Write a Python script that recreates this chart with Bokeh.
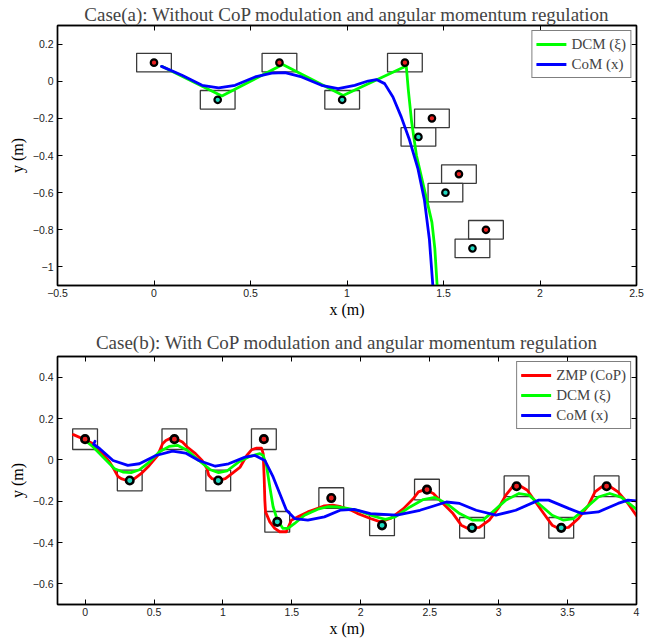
from bokeh.plotting import figure
from bokeh.layouts import column
from bokeh.models import FixedTicker, LinearAxis, CustomJSTickFormatter, Range1d
from bokeh.embed import file_html
from bokeh.resources import INLINE

# ---------------- Case (a) data ----------------
a_step_red_x = [0.0, 0.65, 1.30, 1.44, 1.58, 1.72]
a_step_red_y = [0.10, 0.10, 0.10, -0.20, -0.50, -0.80]
a_step_cyan_x = [0.33, 0.975, 1.37, 1.51, 1.65]
a_step_cyan_y = [-0.10, -0.10, -0.30, -0.60, -0.90]

a_dcm_x = [0.04, 0.352, 0.667, 0.98, 1.307, 1.318, 1.335, 1.36, 1.40, 1.44, 1.455, 1.467]
a_dcm_y = [0.08, -0.079, 0.09, -0.077, 0.082, -0.05, -0.22, -0.40, -0.58, -0.76, -0.90, -1.10]

a_com_x = [0.039, 0.145, 0.249, 0.335, 0.42, 0.524, 0.61, 0.679, 0.765, 0.868, 0.954,
           1.04, 1.109, 1.152, 1.195, 1.238, 1.281, 1.324, 1.367, 1.401, 1.427, 1.445]
a_com_y = [0.080, 0.032, -0.022, -0.036, -0.022, 0.023, 0.044, 0.046, 0.023, -0.022, -0.040,
           -0.022, 0.001, 0.009, -0.013, -0.085, -0.192, -0.317, -0.469, -0.639, -0.853, -1.104]

a_xticks = [-0.5, 0, 0.5, 1, 1.5, 2, 2.5]
a_yticks = [-1, -0.8, -0.6, -0.4, -0.2, 0, 0.2]

# ---------------- Case (b) data ----------------
b_step_red_x = [0.0, 0.648, 1.297, 1.786, 2.48, 3.13, 3.783]
b_step_red_y = [0.10, 0.10, 0.10, -0.185, -0.144, -0.128, -0.128]
b_step_cyan_x = [0.324, 0.966, 1.394, 2.154, 2.807, 3.454]
b_step_cyan_y = [-0.10, -0.10, -0.30, -0.317, -0.329, -0.329]

b_zmp_x = [-0.085, 0.0, 0.059, 0.118, 0.179, 0.214, 0.238, 0.262, 0.298, 0.358, 0.406, 0.466,
           0.526, 0.562, 0.586, 0.622, 0.658, 0.706, 0.741, 0.801, 0.849, 0.885, 0.897, 0.921,
           0.969, 1.017, 1.065, 1.125, 1.173, 1.209, 1.245, 1.28, 1.292, 1.299, 1.304, 1.309,
           1.34, 1.376, 1.412, 1.46, 1.496, 1.544, 1.616, 1.688, 1.736, 1.795, 1.855, 1.927,
           1.975, 2.07, 2.142, 2.214, 2.31, 2.382, 2.418, 2.466, 2.526, 2.597, 2.669, 2.729,
           2.777, 2.86, 2.932, 3.004, 3.052, 3.1, 3.148, 3.208, 3.268, 3.327, 3.388, 3.436,
           3.507, 3.579, 3.651, 3.699, 3.747, 3.794, 3.866, 3.938, 4.0]
b_zmp_y = [0.122, 0.097, 0.078, 0.037, -0.011, -0.051, -0.08, -0.091, -0.099, -0.091, -0.067, -0.027,
           0.021, 0.078, 0.094, 0.105, 0.102, 0.086, 0.062, 0.03, -0.003, -0.043, -0.075, -0.091,
           -0.099, -0.091, -0.067, -0.035, 0.021, 0.049, 0.057, 0.057, 0.03, -0.083, -0.195, -0.252,
           -0.3, -0.332, -0.348, -0.348, -0.292, -0.276, -0.252, -0.235, -0.223, -0.219, -0.227, -0.243,
           -0.259, -0.284, -0.3, -0.284, -0.236, -0.187, -0.155, -0.144, -0.163, -0.211, -0.26, -0.316,
           -0.332, -0.327, -0.292, -0.228, -0.171, -0.131, -0.123, -0.147, -0.204, -0.26, -0.316, -0.332,
           -0.327, -0.284, -0.22, -0.155, -0.131, -0.123, -0.155, -0.211, -0.27]

b_dcm_x = [0.0, 0.059, 0.13, 0.214, 0.274, 0.334, 0.394, 0.466, 0.538, 0.61, 0.67, 0.741, 0.825,
           0.909, 0.969, 1.029, 1.113, 1.197, 1.268, 1.292, 1.316, 1.34, 1.364, 1.395, 1.436, 1.472,
           1.52, 1.592, 1.688, 1.76, 1.831, 1.903, 1.975, 2.094, 2.178, 2.25, 2.357, 2.453, 2.537,
           2.621, 2.717, 2.813, 2.885, 2.957, 3.052, 3.148, 3.22, 3.304, 3.388, 3.471, 3.543, 3.627,
           3.723, 3.806, 3.891, 4.0]
b_dcm_y = [0.095, 0.062, 0.013, -0.043, -0.059, -0.062, -0.048, -0.011, 0.038, 0.065, 0.07, 0.046, -0.003,
           -0.048, -0.062, -0.054, -0.011, 0.017, 0.03, 0.021, -0.027, -0.131, -0.227, -0.292, -0.332, -0.332,
           -0.308, -0.268, -0.239, -0.227, -0.228, -0.235, -0.244, -0.273, -0.288, -0.276, -0.228, -0.192, -0.182,
           -0.211, -0.26, -0.292, -0.292, -0.252, -0.195, -0.163, -0.171, -0.22, -0.268, -0.292, -0.284, -0.236,
           -0.18, -0.163, -0.182, -0.24]

b_com_x = [0.072, 0.062, 0.09, 0.107, 0.203, 0.31, 0.394, 0.514, 0.634, 0.729, 0.825, 0.945, 1.041,
           1.161, 1.233, 1.304, 1.364, 1.412, 1.46, 1.52, 1.616, 1.736, 1.855, 1.951, 2.07, 2.262,
           2.429, 2.621, 2.717, 2.837, 2.98, 3.124, 3.291, 3.363, 3.507, 3.603, 3.723, 3.866, 3.938, 4.0]
b_com_y = [0.09, 0.075, 0.062, 0.054, -0.003, -0.027, -0.019, 0.021, 0.042, 0.033, -0.003, -0.031, -0.019,
           0.013, 0.021, -0.003, -0.083, -0.163, -0.243, -0.284, -0.292, -0.276, -0.243, -0.24, -0.26, -0.268,
           -0.244, -0.204, -0.211, -0.244, -0.268, -0.244, -0.195, -0.195, -0.235, -0.26, -0.252, -0.211, -0.195, -0.199]

b_xticks = [0, 0.5, 1, 1.5, 2, 2.5, 3, 3.5, 4]
b_yticks = [-0.6, -0.4, -0.2, 0, 0.2, 0.4]

SERIF = "Liberation Serif"
SANS = "Liberation Sans"
RED = "#ff0000"
GREEN = "#00ff00"
BLUE = "#0000ff"
DOT_RED = "#e82020"
CYAN = "#20d8c0"
BOX = "#3a3a3a"
LW = 2.8

FMT = """
const v = Math.round(tick * 1000) / 1000;
if (v === 0) { return "0"; }
return (v < 0 ? "\\u2212" : "") + String(Math.abs(v));
"""
EMPTY_FMT = 'return "";'


def style_axis(ax, ticks, show_labels):
    ax.ticker = FixedTicker(ticks=ticks)
    ax.major_tick_in = 5
    ax.major_tick_out = 0
    ax.minor_tick_in = 0
    ax.minor_tick_out = 0
    ax.axis_line_color = "black"
    ax.axis_line_width = 1.4
    ax.major_tick_line_color = "black"
    ax.major_tick_line_width = 1
    ax.major_label_text_font = SANS
    ax.major_label_text_color = "#222222"
    ax.major_label_text_font_size = "10.5px"
    if show_labels:
        ax.formatter = CustomJSTickFormatter(code=FMT)
        ax.major_label_standoff = 4
    else:
        ax.formatter = CustomJSTickFormatter(code=EMPTY_FMT)
        ax.major_label_standoff = 0
    ax.axis_label_text_font = SERIF
    ax.axis_label_text_font_size = "16px"
    ax.axis_label_text_font_style = "normal"
    ax.axis_label_text_color = "black"


def make_fig(title, xr, yr, xticks, yticks, width, height, mb_left, mb_right, mb_top, mb_bottom,
             title_standoff):
    p = figure(width=width, height=height, x_range=Range1d(*xr), y_range=Range1d(*yr),
               output_backend="svg", toolbar_location=None, title=title,
               min_border_left=mb_left, min_border_right=mb_right,
               min_border_top=mb_top, min_border_bottom=mb_bottom)
    p.title.text_font = SERIF
    p.title.text_font_size = "19px"
    p.title.text_font_style = "normal"
    p.title.align = "center"
    p.title.standoff = title_standoff
    p.title.text_line_height = 1.0
    p.xgrid.visible = False
    p.ygrid.visible = False
    p.outline_line_color = "black"
    p.outline_line_width = 1.4
    p.background_fill_color = "white"
    p.border_fill_color = "white"
    style_axis(p.xaxis[0], xticks, True)
    style_axis(p.yaxis[0], yticks, True)
    p.xaxis[0].axis_label = "x (m)"
    p.yaxis[0].axis_label = "y (m)"
    p.xaxis[0].major_label_standoff = 3
    p.xaxis[0].axis_label_standoff = 1
    p.yaxis[0].axis_label_standoff = 4
    p.xaxis[0].axis_label_text_line_height = 1.0
    top = LinearAxis()
    style_axis(top, xticks, False)
    p.add_layout(top, "above")
    right = LinearAxis()
    style_axis(right, yticks, False)
    p.add_layout(right, "right")
    return p


def style_legend(p):
    lg = p.legend[0]
    lg.location = "top_right"
    lg.margin = 5
    lg.padding = 4
    lg.spacing = 2
    lg.glyph_width = 30
    lg.glyph_height = 18
    lg.label_height = 18
    lg.label_standoff = 5
    lg.label_text_font = SERIF
    lg.label_text_font_size = "15px"
    lg.border_line_color = "black"
    lg.border_line_width = 1.5
    lg.background_fill_color = "white"
    lg.background_fill_alpha = 1.0


def draw_steps(p, rx, ry, cx, cy):
    p.rect(x=rx + cx, y=ry + cy, width=0.18, height=0.1, fill_color=None,
           line_color=BOX, line_width=1.3)


def draw_dots(p, rx, ry, cx, cy, dot_size, dot_lw):
    p.scatter(rx, ry, marker="circle", size=dot_size, fill_color=DOT_RED,
              line_color="black", line_width=dot_lw)
    p.scatter(cx, cy, marker="circle", size=dot_size, fill_color=CYAN,
              line_color="black", line_width=dot_lw)


# ---------------- Figure (a) ----------------
pa = make_fig("Case(a): Without CoP modulation and angular momentum regulation",
              (-0.5, 2.5), (-1.1, 0.3), a_xticks, a_yticks,
              width=648, height=320, mb_left=55, mb_right=12, mb_top=17, mb_bottom=32,
              title_standoff=2)
draw_steps(pa, a_step_red_x, a_step_red_y, a_step_cyan_x, a_step_cyan_y)
pa.line(a_dcm_x, a_dcm_y, line_color=GREEN, line_width=LW, line_join="round",
        line_cap="round", legend_label="DCM (\u03be)")
pa.line(a_com_x, a_com_y, line_color=BLUE, line_width=LW, line_join="round",
        line_cap="round", legend_label="CoM (x)")
draw_dots(pa, a_step_red_x, a_step_red_y, a_step_cyan_x, a_step_cyan_y, 6.5, 2.2)
style_legend(pa)

# ---------------- Figure (b) ----------------
pb = make_fig("Case(b): With CoP modulation and angular momentum regulation",
              (-0.2, 4.0), (-0.7, 0.5), b_xticks, b_yticks,
              width=648, height=319, mb_left=57, mb_right=6, mb_top=36, mb_bottom=32,
              title_standoff=8)
draw_steps(pb, b_step_red_x, b_step_red_y, b_step_cyan_x, b_step_cyan_y)
pb.line(b_zmp_x, b_zmp_y, line_color=RED, line_width=LW, line_join="round",
        line_cap="round", legend_label="ZMP (CoP)")
pb.line(b_dcm_x, b_dcm_y, line_color=GREEN, line_width=LW, line_join="round",
        line_cap="round", legend_label="DCM (\u03be)")
pb.line(b_com_x, b_com_y, line_color=BLUE, line_width=LW, line_join="round",
        line_cap="round", legend_label="CoM (x)")
draw_dots(pb, b_step_red_x, b_step_red_y, b_step_cyan_x, b_step_cyan_y, 7.5, 2.6)
style_legend(pb)

layout = column(pa, pb, spacing=0)

with open("out.html", "w", encoding="utf-8") as f:
    f.write(file_html(layout, INLINE))
